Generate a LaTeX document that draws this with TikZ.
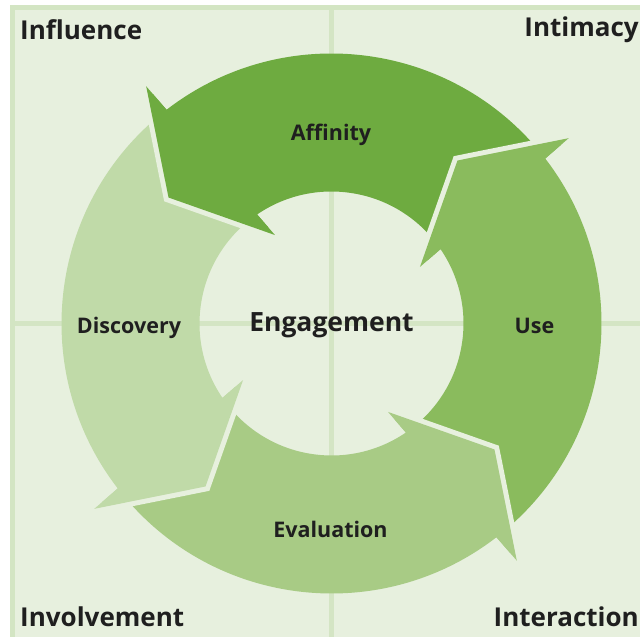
\documentclass[tikz,border=0pt]{standalone}
\usepackage{fontspec}
\setmainfont{Open Sans}
\definecolor{bgc}{HTML}{E7F0DE}
\definecolor{framec}{HTML}{D3E5C3}
\definecolor{gridc}{HTML}{D4E5C4}
\definecolor{caff}{HTML}{6EAB40}
\definecolor{cuse}{HTML}{8ABB5D}
\definecolor{ceval}{HTML}{A8CB85}
\definecolor{cdisc}{HTML}{C0DAA8}
\begin{document}
\begin{tikzpicture}[x=1pt,y=1pt,
  seglbl/.style={font=\bfseries\fontsize{21.5}{24}\selectfont, text=black!88, inner sep=0},
  cornerlbl/.style={font=\bfseries\fontsize{26}{28}\selectfont, text=black!88, inner sep=0},
  centerlbl/.style={font=\bfseries\fontsize{26.5}{30}\selectfont, text=black!88, inner sep=0},
  gapline/.style={bgc, line width=10pt, line join=miter}]
\useasboundingbox (0,0) rectangle (640,637);
\fill[white] (0,0) rectangle (640,637);
\fill[framec] (10,0) rectangle (640,632);
\fill[bgc] (15,0) rectangle (640,627);
\draw[gridc, line width=5pt] (15,313.5) -- (640,313.5);
\draw[gridc, line width=5pt] (331.5,0) -- (331.5,627);
\begin{scope}[shift={(331.5,313.5)}]
  \foreach \k/\c in {0/cuse,1/caff,2/cdisc,3/ceval}{
    \fill[\c, rotate=90*\k] (-50.5:270) arc[start angle=-50.5, end angle=37.65, radius=270]
      -- (38:301) -- (52.3:206) -- (32.6:105) -- (34.3:132)
      arc[start angle=34.3, end angle=-50.5, radius=132] -- cycle;
  }
  \foreach \k/\c in {0/cuse,1/caff,2/cdisc,3/ceval}{
    \draw[gapline, rotate=90*\k] (38:301) -- (52.3:206) -- (32.6:105);
    \fill[\c, rotate=90*\k] (38:301) -- (52.3:206) -- (32.6:105) -- cycle;
  }
  \node[seglbl] (aff) at (-0.5,189) {Affinity};
  \node[seglbl] (use) at (203,-2.5) {Use};
  \node[seglbl] (disc) at (-202.5,-4.5) {Discovery};
  \node[seglbl] (eval) at (-1,-205.5) {Evaluation};
  \node[centerlbl] (eng) at (0,-1.5) {Engagement};
\end{scope}
\node[cornerlbl, anchor=west] (infl) at (20,607) {Influence};
\node[cornerlbl, anchor=east] (intim) at (639,607) {Intimacy};
\node[cornerlbl, anchor=west] (invol) at (20,20) {Involvement};
\node[cornerlbl, anchor=east] (inter) at (639,20) {Interaction};
\end{tikzpicture}
\end{document}
